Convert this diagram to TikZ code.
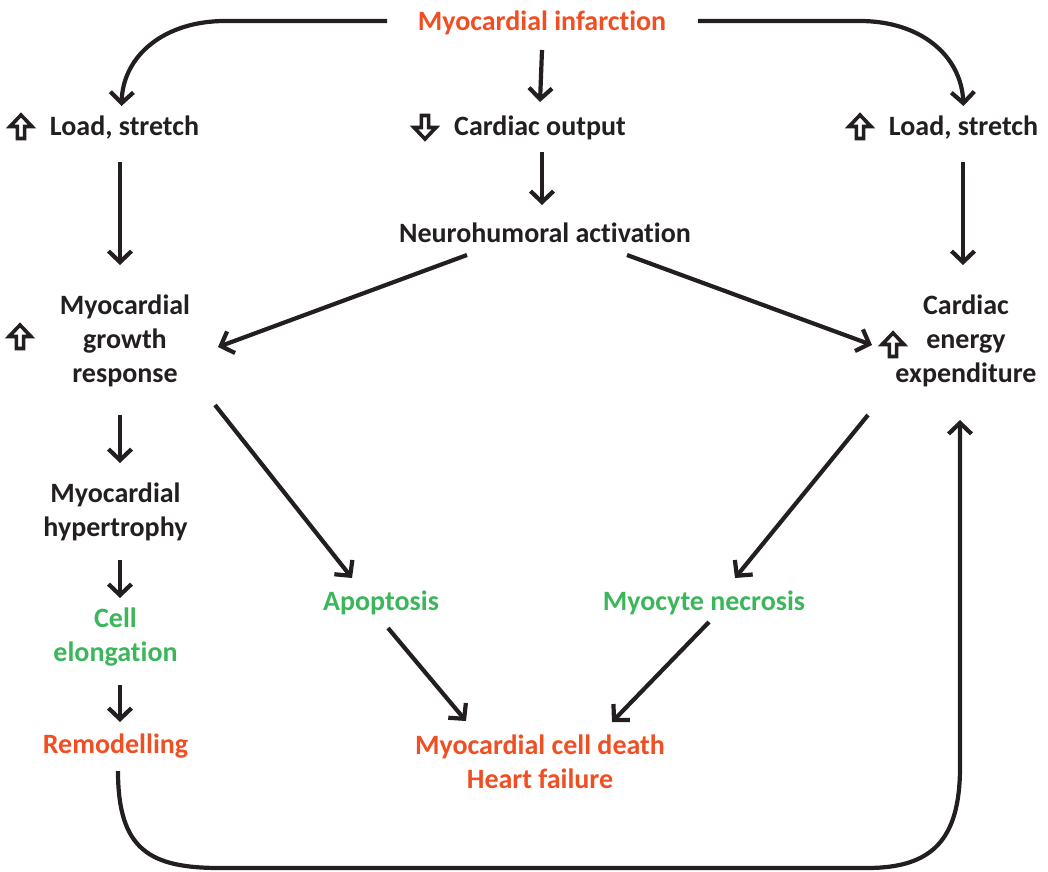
\documentclass[tikz,border=0pt]{standalone}
\usepackage{fontspec}
\setmainfont{Carlito}[Ligatures={NoCommon,NoRare,NoDiscretionary}]
\usetikzlibrary{arrows.meta}
\definecolor{mired}{RGB}{240,78,35}
\definecolor{migreen}{RGB}{60,182,90}
\definecolor{miblack}{RGB}{35,31,32}
\begin{document}
\begin{tikzpicture}[x=1pt,y=-1pt,
  lbl/.style={font=\fontsize{28}{34}\selectfont\bfseries, text=miblack, align=center, inner sep=0pt},
  arr/.style={draw=miblack, line width=4.2pt, line join=round, -{Straight Barb[length=11pt,width=23pt]}},
  hup/.pic={\draw[miblack, line width=3.6pt, fill=white, miter limit=10] (0,-12) -- (11,-0.5) -- (3.6,-0.5) -- (3.6,11.5) -- (-3.6,11.5) -- (-3.6,-0.5) -- (-11,-0.5) -- cycle;}]
\useasboundingbox (0,0) rectangle (1048,871);
% nodes
\node[lbl,text=mired] (mi) at (542,23) {Myocardial infarction};
\node[lbl] (ll) at (124.5,128) {Load, stretch};
\node[lbl] (co) at (540,128) {Cardiac output};
\node[lbl] (rl) at (963.5,128) {Load, stretch};
\node[lbl] (nh) at (545,233) {Neurohumoral activation};
\node[lbl] (gr) at (125,341) {Myocardial\\growth\\response};
\node[lbl] (ee) at (966,341) {Cardiac\\energy\\expenditure};
\node[lbl] (hy) at (115.5,512) {Myocardial\\hypertrophy};
\node[lbl,text=migreen] (ce) at (115.5,637) {Cell\\elongation};
\node[lbl,text=mired] (rm) at (115.5,746) {Remodelling};
\node[lbl,text=migreen] (ap) at (381,603) {Apoptosis};
\node[lbl,text=migreen] (mn) at (704,603) {Myocyte necrosis};
\node[lbl,text=mired] (cd) at (540,762) {Myocardial cell death\\Heart failure};
% hollow up/down arrows
\pic at (21,127) {hup};
\pic[rotate=180] at (425,127) {hup};
\pic at (860,127) {hup};
\pic at (20,337) {hup};
\pic at (893,345) {hup};
% connectors
\draw[arr] ([shift={(-155,-2)}]mi.center) -- (225,21) .. controls (165,21) and (123,55) .. ([shift={(-3,-22)}]ll.center);
\draw[arr] ([shift={(0,27)}]mi.center) -- ([shift={(0,-26)}]co.center);
\draw[arr] ([shift={(156,-2)}]mi.center) -- (860,21) .. controls (920,21) and (961,55) .. ([shift={(0,-22)}]rl.center);
\draw[arr] ([shift={(-4.5,34)}]ll.center) -- ([shift={(-5,-76)}]gr.center);
\draw[arr] ([shift={(2,24)}]co.center) -- ([shift={(-3,-28)}]nh.center);
\draw[arr] ([shift={(-0.5,34)}]rl.center) -- ([shift={(-3,-76)}]ee.center);
\draw[arr] ([shift={(-78,22)}]nh.center) -- ([shift={(93,6)}]gr.center);
\draw[arr] ([shift={(82,22)}]nh.center) -- ([shift={(-94,4)}]ee.center);
\draw[arr] ([shift={(-5,74)}]gr.center) -- ([shift={(4.5,-49)}]hy.center);
\draw[arr] ([shift={(4.5,48)}]hy.center) -- ([shift={(4.5,-39)}]ce.center);
\draw[arr] ([shift={(4.5,48)}]ce.center) -- ([shift={(4.5,-24)}]rm.center);
\draw[arr] ([shift={(90,64)}]gr.center) -- ([shift={(-29,-25)}]ap.center);
\draw[arr] ([shift={(-98,74)}]ee.center) -- ([shift={(31,-25)}]mn.center);
\draw[arr] ([shift={(7,25)}]ap.center) -- ([shift={(-74,-41)}]cd.center);
\draw[arr] ([shift={(5,19)}]mn.center) -- ([shift={(72,-40)}]cd.center);
\draw[arr] ([shift={(2.5,25)}]rm.center) .. controls (118,850) and (150,868) .. (220,868) -- (867,868) .. controls (932,868) and (960,840) .. (960,767) -- ([shift={(-6,79)}]ee.center);
\end{tikzpicture}
\end{document}
